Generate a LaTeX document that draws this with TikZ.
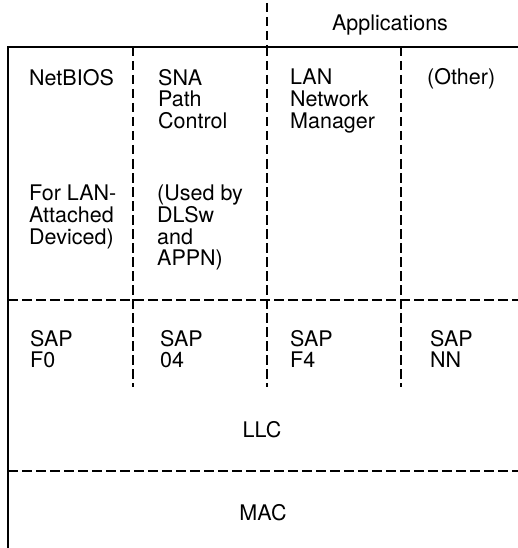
\documentclass[tikz,border=0pt]{standalone}
\usepackage{fontspec}
\setmainfont{TeX Gyre Heros}
\usetikzlibrary{positioning}

\tikzset{
  layer/.style={anchor=north west, inner sep=0pt, align=left,
                font=\fontsize{21.5}{21.7}\selectfont},
  divider/.style={line width=2pt, dash pattern=on 9.5pt off 4.5pt},
  frame/.style={line width=2pt}
}

\begin{document}
\begin{tikzpicture}[x=1pt, y=-1pt]
            \useasboundingbox (0,0) rectangle (518,548);
            % outer frame and separators
            \draw[frame] (518,47) -- (8,47) -- (8,548);
            \draw[divider] (267,3) -- (267,47);
            \foreach \x in {133,267,401}{%
                    \draw[divider] (\x,47) -- (\x,387);
                }
            \draw[divider] (8,300) -- (518,300);
            \draw[divider] (8,471) -- (518,471);
            % applications
            \node[layer, anchor=center] (apps) at (390,25) {Applications};
            \node[layer] (netbios) at (29,69) {NetBIOS};
            \node[layer] (sna) at (158,69) {SNA\\Path\\Control};
            \node[layer] (lnm) at (290,69) {LAN\\Network\\Manager};
            \node[layer] (other) at (427,68) {(Other)};
            \node[layer] (lanatt) at (29,185) {For LAN-\\Attached\\Deviced)};
            \node[layer] (used) at (157,185) {(Used by\\DLSw\\and\\APPN)};
            % saps
            \node[layer] (sapF0) at (30,330) {SAP\\F0};
            \node[layer] (sap04) at (160,330) {SAP\\04};
            \node[layer] (sapF4) at (290,330) {SAP\\F4};
            \node[layer] (sapNN) at (430,330) {SAP\\NN};
            % lower layers
            \node[layer, anchor=center] (llc) at (262,430) {LLC};
            \node[layer, anchor=center] (mac) at (263,513) {MAC};
        \end{tikzpicture}
\end{document}
